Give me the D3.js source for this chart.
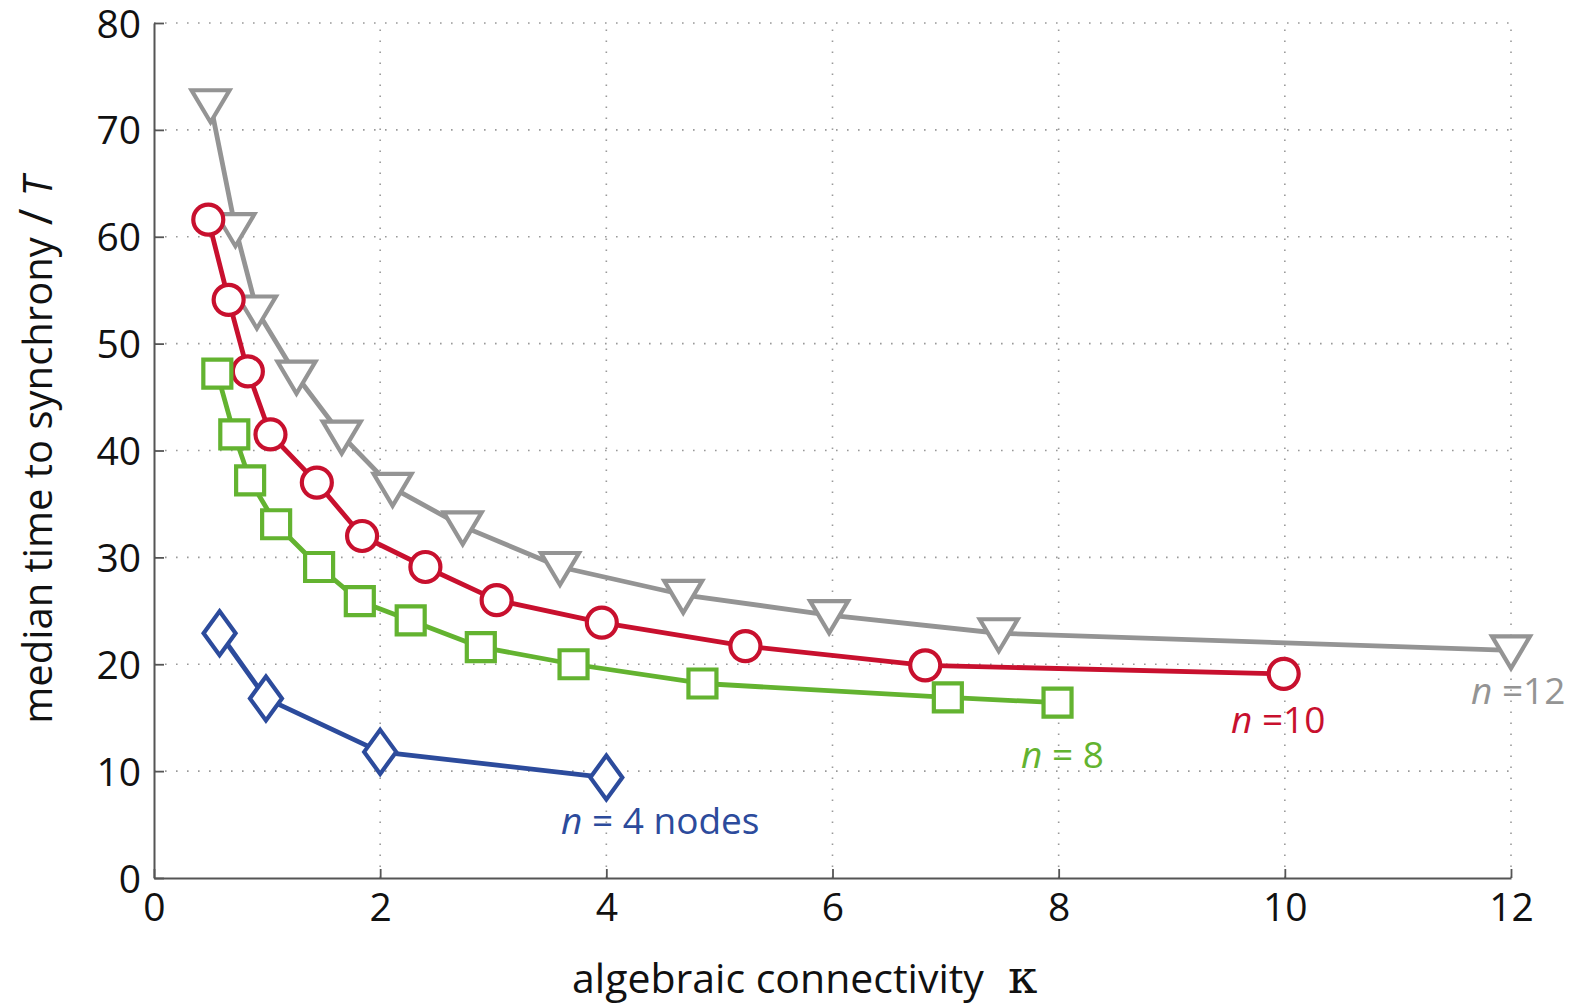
<!DOCTYPE html>
<html>
<head>
<meta charset="utf-8">
<script src="https://cdn.jsdelivr.net/npm/d3@7"></script>
<style>
  html, body { margin: 0; padding: 0; background: #fff; }
  svg { display: block; }
  text { font-family: "Open Sans", "Noto Sans", sans-serif; }
</style>
</head>
<body>
<svg id="chart" width="1580" height="1008"></svg>
<script>
// ---- data ----
const xTicks = [0, 2, 4, 6, 8, 10, 12];
const yTicks = [0, 10, 20, 30, 40, 50, 60, 70, 80];

const n12x = [0.50, 0.72, 0.91, 1.26, 1.66, 2.11, 2.73, 3.59, 4.68, 5.97, 7.47, 12.0];
const n12y = [72.4, 60.8, 53.1, 47.0, 41.4, 36.5, 32.9, 29.1, 26.5, 24.6, 22.9, 21.3];

const n10x = [0.48, 0.66, 0.83, 1.03, 1.44, 1.84, 2.40, 3.03, 3.96, 5.23, 6.82, 9.99];
const n10y = [61.6, 54.1, 47.4, 41.5, 37.0, 32.0, 29.1, 26.0, 23.9, 21.7, 19.9, 19.1];

const n8x = [0.56, 0.71, 0.85, 1.08, 1.46, 1.82, 2.27, 2.89, 3.71, 4.85, 7.02, 7.99];
const n8y = [47.2, 41.5, 37.2, 33.1, 29.1, 25.9, 24.1, 21.6, 20.0, 18.2, 16.9, 16.4];

const n4x = [0.58, 0.99, 2.0, 4.0];
const n4y = [22.9, 16.8, 11.8, 9.4];

const seriesNames = ["n12", "n10", "n8", "n4"];
const labelTexts = [["n", " =12"], ["n", " =10"], ["n", " = 8"], ["n", " = 4 nodes"]];

// ---- styles ----
const styles = {
  n12: { color: "#949494", marker: "triDown", lx: 1471, ly: 704 },
  n10: { color: "#c8102e", marker: "circle",  lx: 1231, ly: 733 },
  n8:  { color: "#63b330", marker: "square",  lx: 1021, ly: 768 },
  n4:  { color: "#2c4b9c", marker: "diamond", lx: 561,  ly: 834 }
};
const dataMap = {
  n12: [n12x, n12y], n10: [n10x, n10y], n8: [n8x, n8y], n4: [n4x, n4y]
};

const svg = d3.select("#chart");
const x = d3.scaleLinear().domain([0, 12]).range([154, 1511]);
const y = d3.scaleLinear().domain([0, 80]).range([878, 23]);

// grid
const grid = svg.append("g");
grid.selectAll("line.gx").data(xTicks.filter(d => d > 0)).join("line")
  .attr("x1", d => x(d)).attr("x2", d => x(d))
  .attr("y1", y(0)).attr("y2", y(80))
  .attr("stroke", "#999").attr("stroke-width", 1.6)
  .attr("stroke-dasharray", "1.6,9.4");
grid.selectAll("line.gy").data(yTicks.filter(d => d > 0)).join("line")
  .attr("x1", x(0)).attr("x2", x(12))
  .attr("y1", d => y(d)).attr("y2", d => y(d))
  .attr("stroke", "#999").attr("stroke-width", 1.6)
  .attr("stroke-dasharray", "1.6,9.4");

// axes
const xAxis = d3.axisBottom(x).tickValues(xTicks).tickSize(-9).tickPadding(15).tickSizeOuter(0);
const yAxis = d3.axisLeft(y).tickValues(yTicks).tickSize(-10).tickPadding(13).tickSizeOuter(0);
const gx = svg.append("g").attr("transform", `translate(0,${y(0)})`).call(xAxis);
const gy = svg.append("g").attr("transform", `translate(${x(0)},0)`).call(yAxis);
[gx, gy].forEach(g => {
  g.select(".domain").attr("stroke", "#555").attr("stroke-width", 2);
  g.selectAll(".tick line").attr("stroke", "#555").attr("stroke-width", 1.8);
  g.selectAll(".tick text").attr("fill", "#111").attr("font-size", 39)
    .attr("font-family", "'Open Sans', sans-serif");
});
gx.selectAll(".tick text").attr("dy", "0.71em");
gy.selectAll(".tick text").attr("dy", "0.36em");

// marker shapes
function markerPath(type) {
  switch (type) {
    case "triDown": return "M-19,-14 L19,-14 L0,18 Z";
    case "circle": { const p = d3.path(); p.arc(0, 0, 15, 0, 2 * Math.PI); p.closePath(); return p.toString(); }
    case "square": return "M-14,-14 L14,-14 L14,14 L-14,14 Z";
    case "diamond": return "M0,-22 L16,0 L0,22 L-16,0 Z";
  }
}

const line = d3.line().x(d => x(d[0])).y(d => y(d[1]));

const drawOrder = ["n12", "n10", "n8", "n4"];
drawOrder.forEach(name => {
  const st = styles[name];
  const [xs, ys] = dataMap[name];
  const pts = xs.map((v, i) => [v, ys[i]]);
  const g = svg.append("g");
  g.append("path").datum(pts).attr("d", line)
    .attr("fill", "none").attr("stroke", st.color).attr("stroke-width", 4.8)
    .attr("stroke-linejoin", "round");
  g.selectAll("path.m").data(pts).join("path").attr("class", "m")
    .attr("transform", d => `translate(${x(d[0])},${y(d[1])})`)
    .attr("d", markerPath(st.marker))
    .attr("fill", "#fff").attr("stroke", st.color).attr("stroke-width", 4.2)
    .attr("stroke-linejoin", "miter");
});

// labels
seriesNames.forEach((name, i) => {
  const st = styles[name];
  const t = svg.append("text").attr("x", st.lx).attr("y", st.ly)
    .attr("fill", st.color).attr("font-size", 37);
  t.append("tspan").attr("font-style", "italic").text(labelTexts[i][0]);
  t.append("tspan").text(labelTexts[i][1]);
});

// axis titles
const xl = svg.append("text").attr("x", 572).attr("y", 993)
  .attr("text-anchor", "start").attr("font-size", 41).attr("fill", "#111");
xl.append("tspan").text("algebraic connectivity");
xl.append("tspan").attr("dx", 24).attr("font-family", "'DejaVu Serif', serif")
  .attr("font-size", 47).text("κ");

const yl = svg.append("text")
  .attr("transform", "translate(52,450) rotate(-90)")
  .attr("text-anchor", "middle").attr("font-size", 40).attr("fill", "#111");
yl.append("tspan").text("median time to synchrony");
yl.append("tspan").attr("dx", 12).attr("font-size", 46).text("/");
yl.append("tspan").attr("dx", 12).attr("font-style", "italic").text("T");
</script>
</body>
</html>
